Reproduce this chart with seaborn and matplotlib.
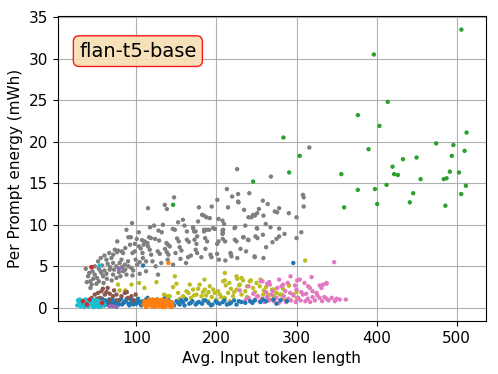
import pandas as pd
import matplotlib
matplotlib.use("Agg")
import matplotlib.pyplot as plt
import seaborn as sns

# per-dataset points: avg. input token length vs per prompt energy (mWh)
gray_x = [225.8, 147, 135.4, 138, 114.5, 227, 219.5, 201, 227, 234.5, 178, 182, 184.5, 191.6, 207.5,
          240, 245.8, 250.8, 94.5, 133, 145.4, 148, 127.5, 131.6, 87.5, 103, 163, 170.7, 172, 184.5,
          187.5, 198, 207.5, 208, 222.5, 250.8, 90, 93, 115.8, 118, 100.4, 76, 107, 110.4, 113.7,
          123.3, 128.3, 137.5, 139.5, 141.6, 150.7, 152.9, 163, 165.4, 172.5, 175, 185.8, 188.3, 207.9,
          210.8, 222.9, 233.3, 240, 251.2, 72.9, 75.8, 81.6, 83.3, 95, 97.9, 103, 105.4, 107.5, 114.5,
          116.6, 118.3, 126.6, 129.1, 135.7, 137.9, 140, 148.8, 154, 156.2, 164.5, 174, 175.8, 186.2,
          193.7, 217.9, 218.7, 247.9, 62.5, 55.4, 52, 68.75, 70.75, 79, 81.25, 85.4, 89.5, 93.75, 100.75,
          36.6, 39.5, 42.5, 45, 47.9, 50.75, 42.5, 56.25, 58.3, 62.5, 66.6, 70.75, 75, 83.3, 87.5, 127,
          145.75, 316, 268, 308, 309, 227.5, 257.9, 264, 309, 214.4, 253, 248, 243.7, 272.9, 275.8,
          278.3, 258.7, 290.4, 300, 187.5, 202.5, 209.5, 261.6, 267.5, 278.3, 250.4, 223.3, 278.3, 275,
          248.7, 234, 239.5, 225, 208.3, 207.5, 202.5, 200.8, 217.5, 247.5, 258.7, 200.8, 192.5, 170.8,
          174, 175.8, 184.5, 190.8, 195.8, 44, 48, 53, 57, 60, 64, 67, 72, 75, 78, 82, 86, 90, 96, 99,
          104, 108, 112, 60, 66, 71, 77, 86, 92, 98, 109, 41, 46, 53, 55, 63, 69, 80, 95, 38, 44, 50, 59,
          120, 124, 131, 139, 112, 104, 117, 122, 158, 160, 152, 177, 194, 236, 258, 262, 270, 285, 300,
          230, 237, 181, 155, 162, 168, 203, 211, 226, 306, 213, 241]
gray_y = [16.7, 13.3, 12.4, 11.9, 12.0, 13.7, 13.4, 13.0, 12.8, 11.8, 12.1, 11.2, 11.1, 10.8, 10.5,
          10.9, 11.2, 11.4, 10.2, 10.0, 9.5, 9.4, 9.3, 9.1, 9.4, 9.1, 9.2, 9.6, 9.2, 9.2,
          9.4, 9.5, 9.3, 9.0, 9.6, 9.55, 8.5, 8.5, 8.5, 8.4, 8.3, 8.0, 8.15, 8.0, 7.8,
          8.3, 8.1, 7.8, 7.6, 7.4, 8.35, 8.0, 8.2, 7.95, 8.2, 7.7, 8.4, 8.0, 8.3,
          8.0, 8.2, 8.5, 8.15, 8.4, 7.0, 6.7, 6.8, 6.6, 6.6, 6.8, 7.4, 7.15, 6.6, 7.4,
          7.0, 6.4, 6.8, 6.5, 7.1, 6.7, 6.4, 6.6, 7.3, 6.9, 6.1, 7.0, 6.6, 7.1,
          6.1, 6.5, 6.2, 6.1, 5.8, 6.0, 5.6, 6.0, 5.4, 5.4, 5.8, 5.2, 5.6, 4.8, 5.2,
          4.7, 3.8, 3.2, 4.4, 4.0, 3.6, 2.4, 4.2, 3.8, 4.1, 4.6, 4.0, 3.6, 4.4, 4.0, 4.0,
          5.2, 19.3, 15.8, 13.6, 13.3, 12.7, 12.9, 12.5, 12.2, 12.1, 11.9, 11.1, 10.9, 11.6, 11.5,
          12.0, 11.1, 11.4, 10.9, 10.9, 10.7, 10.1, 10.1, 9.7, 9.55, 9.6, 9.7, 8.6, 8.3,
          8.6, 8.5, 8.2, 8.0, 9.4, 8.9, 8.0, 7.7, 6.6, 6.2, 6.0, 6.5, 6.4, 9.7,
          9.2, 8.6, 9.4, 9.4, 9.6, 4.9, 5.0, 4.7, 5.1, 4.5, 5.3, 4.9, 4.6, 5.0, 4.3, 4.9, 4.6, 5.0, 4.5, 5.8,
          5.5, 6.0, 5.6, 6.3, 6.6, 6.4, 6.9, 7.2, 7.6, 7.7, 7.6, 4.2, 3.5, 3.2, 4.4, 3.5, 3.3, 3.8, 3.9, 3.1, 2.8, 2.9, 3.0,
          5.6, 5.0, 5.4, 5.8, 4.4, 4.1, 9.7, 9.9, 10.6, 9.9, 10.3, 10.4, 12.2, 9.9, 8.8, 7.3, 7.9, 8.9, 8.4,
          7.1, 6.8, 6.1, 5.9, 5.4, 6.3, 5.8, 5.7, 6.0, 9.1, 14.3, 13.8]

olive_x = [77, 93.75, 103.3, 79, 86, 134.5, 139.5, 145.8, 135.4, 141.6, 152, 154, 158.3, 162.5, 166.6,
           170.75, 175, 179, 181.25, 185.4, 189.5, 191.6, 197.9, 200, 204, 208.3, 210.4, 214.5, 216.6,
           220.75, 225, 229, 231.25, 241.6, 245.75, 254, 258.3, 210.4, 225, 231.25, 148, 310.75, 226,
           210.4, 233.25, 242.9, 250, 211.6, 228.3, 269.5, 290.4, 300, 264.5, 271.6, 281.25, 270.75,
           290.75, 259, 271.6, 275, 279, 285.4, 300, 160, 165, 168, 172, 177, 183, 187, 194, 196, 202,
           206, 218, 222, 236, 238, 248, 252, 262, 283, 120, 125, 110, 150, 185, 216, 238, 190, 255, 265, 296]
olive_y = [2.8, 2.8, 3.0, 2.1, 2.1, 1.6, 1.4, 2.5, 1.5, 1.4, 1.8, 1.1, 1.4, 2.0, 2.8,
           2.2, 1.6, 2.8, 1.4, 2.2, 0.8, 2.6, 1.8, 1.0, 1.6, 3.2, 1.2, 1.8, 0.8,
           1.4, 2.2, 2.8, 1.6, 3.2, 2.4, 2.6, 1.6, 4.2, 3.8, 3.6, 3.8, 5.7, 3.5,
           3.3, 3.3, 3.3, 3.0, 2.7, 2.7, 2.2, 2.7, 1.9, 1.6, 1.4, 1.6, 1.0,
           2.7, 2.1, 2.2, 1.8, 1.6, 1.0, 1.2, 1.2, 1.8, 1.2, 1.5, 2.3, 1.9, 1.5, 1.3, 2.2, 2.0,
           1.3, 2.3, 1.9, 2.0, 1.3, 1.9, 1.4, 2.5, 2.3, 1.0, 3.1, 2.4, 2.9, 3.4, 3.0, 2.6, 1.9, 3.4, 1.2, 1.6]

pink_x = [347, 257.5, 263.3, 266.6, 283.3, 281.25, 292.5, 300.75, 304, 318.75, 314.5, 316.6, 329, 333.25,
          337.5, 331.25, 329, 337.5, 350, 361.6, 278.25, 255.4, 265.75, 337.5, 229.1, 236, 240, 244, 248,
          251, 254, 257, 260, 263, 266, 269, 272, 275, 278, 281, 284, 287, 290, 293, 296, 299, 302, 305,
          308, 311, 314, 317, 320, 323, 326, 332, 335, 340, 344, 348, 354, 286, 292, 300, 306, 312, 320,
          270, 262, 246, 240, 325, 276, 298, 310, 289]
pink_y = [5.5, 3.2, 2.9, 2.8, 2.8, 2.6, 3.8, 3.3, 3.4, 3.7, 2.6, 2.4, 2.7, 2.8,
          2.9, 2.4, 1.2, 1.1, 1.1, 1.0, 3.4, 3.2, 3.1, 3.0, 2.1, 0.9, 1.2, 0.7, 1.0,
          1.4, 0.8, 1.1, 0.7, 1.3, 0.9, 1.6, 0.8, 1.2, 0.6, 1.0, 1.4, 0.7, 1.1, 0.9, 1.5, 0.7, 1.2, 0.9,
          1.6, 0.8, 1.1, 0.7, 1.3, 0.9, 1.5, 0.8, 1.3, 0.9, 1.2, 0.8, 1.0, 2.0, 1.8, 2.2, 1.9, 1.7, 2.0,
          2.0, 1.9, 1.7, 2.6, 1.8, 2.4, 2.7, 3.0, 3.0]

blue_x = [48, 52, 55, 58, 61, 64, 67, 70, 73, 76, 79, 82, 85, 88, 91, 94, 97, 100, 103, 106, 109, 112,
          115, 118, 121, 124, 127, 130, 133, 136, 140, 145, 150, 154, 158, 162, 166, 170, 174, 178, 182,
          186, 190, 195, 199, 204, 208, 213, 218, 222, 225, 231, 236, 242, 248, 255, 262, 271, 280, 288,
          296, 108.3, 50, 54, 57, 60, 63, 66, 69, 72, 75, 78, 81, 84, 87, 90, 93, 96, 99, 102, 105,
          108, 111, 114, 117, 120, 123, 126, 129, 132, 135, 138, 142, 147, 152, 156, 160, 168, 176,
          184, 193, 201, 210, 216, 228, 245, 258, 275]
blue_y = [0.5, 0.8, 0.3, 0.6, 0.9, 0.4, 0.7, 1.0, 0.3, 0.6, 0.9, 0.4, 0.7, 1.1, 0.3, 0.6, 0.9, 0.5, 0.8,
          0.3, 0.6, 1.0, 0.4, 0.7, 0.2, 0.9, 0.5, 0.8, 0.3, 0.6, 0.9, 0.5, 0.8, 0.4, 0.7, 1.0, 0.5, 0.8,
          0.4, 0.7, 0.5, 0.9, 0.6, 0.4, 0.8, 0.5, 0.7, 0.4, 0.6, 0.9, 0.4, 0.7, 0.6, 0.8, 0.9, 0.7, 0.8,
          1.0, 0.9, 0.8, 5.4, 5.1, 1.0, 0.6, 1.1, 0.3, 0.8, 1.0, 0.5, 0.7, 0.9, 0.4, 1.1, 0.6, 0.9,
          0.5, 1.0, 0.4, 0.7, 1.1, 0.5, 0.8, 0.4, 1.2, 0.6, 0.9, 0.5, 1.0, 0.3, 0.7, 1.1, 0.4, 0.6,
          0.3, 0.6, 0.9, 0.3, 0.6, 0.6, 0.9, 0.3, 0.6, 0.9, 0.5, 0.8, 0.6, 1.0, 0.5]

orange_x = [109, 111, 113, 115, 117, 119, 121, 123, 125, 127, 129, 131, 133, 135, 137, 139, 141, 143, 145,
            112, 118, 124, 130, 136, 142, 114, 120, 126, 132, 128, 140, 110, 116, 122, 134, 138, 144,
            113, 119, 125, 131, 137, 143, 121, 127, 133, 139, 117]
orange_y = [0.4, 0.7, 0.2, 0.9, 0.5, 0.3, 0.8, 0.1, 0.6, 0.4, 0.9, 0.2, 0.7, 0.5, 0.3, 0.8, 0.4, 0.6, 0.3,
            0.1, 0.6, 0.3, 0.5, 0.1, 0.2, 0.6, 1.0, 0.9, 1.0, 0.2, 5.4, 0.8, 1.0, 0.5, 0.9, 0.6, 0.7,
            0.5, 0.2, 1.0, 0.7, 0.9, 0.1, 0.3, 0.7, 0.1, 0.5, 0.8]

brown_x = [47.9, 52, 56.25, 60.4, 62.5, 66.6, 70.75, 75, 81.25, 85.4, 89.5, 93.75, 54.2, 66.6, 77,
           58, 64, 72, 88, 96, 99, 51, 44]
brown_y = [1.6, 1.8, 2.0, 1.6, 1.9, 1.7, 1.4, 1.6, 1.4, 1.8, 1.2, 1.4, 1.2, 1.0, 0.9,
           2.3, 2.4, 2.1, 1.9, 0.9, 1.6, 1.1, 1.2]

cyan_x = [26, 28, 30, 32, 34, 36, 38, 40, 42, 44, 46, 48, 50, 52, 54, 56, 58, 29, 35, 41, 47, 53, 60, 54,
          27, 31, 33, 37, 39, 43, 45, 49, 51, 55]
cyan_y = [0.3, 0.7, 0.2, 0.5, 0.9, 0.3, 0.6, 0.2, 0.8, 0.4, 0.1, 0.6, 0.3, 0.8, 0.4, 0.2, 0.6,
          1.0, 0.1, 0.5, 0.9, 0.1, 0.4, 5.1, 0.9, 0.8, 0.4, 1.0, 0.4, 1.0, 0.7, 0.2, 0.9, 0.6]

red_x = [43.75, 41.6, 33, 38, 57, 66]
red_y = [4.9, 1.0, 0.8, 0.4, 0.6, 0.3]

purple_x = [78.25, 70.75, 66.6, 75]
purple_y = [4.7, 0.2, 0.2, 0.1]

green_x = [506, 396.6, 414, 376.6, 403.7, 512.5, 474.5, 496, 390, 510, 494, 450, 433, 420, 422, 426.6,
           356, 491.6, 503, 455, 484, 487.5, 511.6, 412.5, 376.6, 398, 445.8, 505.8, 441.6, 400.8,
           359.5, 486, 304, 283.7, 290.8, 245.8, 145.8]
green_y = [33.5, 30.5, 24.8, 23.2, 21.9, 21.1, 19.8, 19.6, 19.1, 18.9, 18.3, 18.1, 17.9, 17.0, 16.1, 16.0,
           16.1, 16.4, 16.3, 15.5, 15.5, 15.6, 14.7, 14.8, 14.2, 14.3, 13.8, 13.7, 12.7, 12.5,
           12.1, 12.3, 18.3, 20.5, 16.3, 15.2, 12.4]

groups = [
    ("gray", gray_x, gray_y, "tab:gray"),
    ("olive", olive_x, olive_y, "tab:olive"),
    ("pink", pink_x, pink_y, "tab:pink"),
    ("blue", blue_x, blue_y, "tab:blue"),
    ("orange", orange_x, orange_y, "tab:orange"),
    ("brown", brown_x, brown_y, "tab:brown"),
    ("cyan", cyan_x, cyan_y, "tab:cyan"),
    ("red", red_x, red_y, "tab:red"),
    ("purple", purple_x, purple_y, "tab:purple"),
    ("green", green_x, green_y, "tab:green"),
]

rows = []
for name, xs, ys, _ in groups:
    for x, y in zip(xs, ys):
        rows.append({"dataset": name, "tokens": x, "energy": y})
df = pd.DataFrame(rows)
palette = {name: c for name, _, _, c in groups}

fig, ax = plt.subplots(figsize=(4.98, 3.74), dpi=100)
fig.subplots_adjust(left=0.116, right=0.976, top=0.958, bottom=0.142)

sns.scatterplot(data=df, x="tokens", y="energy", hue="dataset", palette=palette,
                s=10, linewidth=0, legend=False, ax=ax)

ax.grid(True, color="#b0b0b0", linewidth=0.8)
ax.set_axisbelow(True)
ax.set_xlabel("Avg. Input token length", fontsize=11)
ax.set_ylabel("Per Prompt energy (mWh)", fontsize=11)
ax.tick_params(labelsize=11)
ax.set_yticks([0, 5, 10, 15, 20, 25, 30, 35])

ax.text(0.05, 0.915, "flan-t5-base", transform=ax.transAxes, fontsize=14,
        va="top", ha="left",
        bbox=dict(boxstyle="round,pad=0.3", facecolor="wheat", edgecolor="red", alpha=0.9))

fig.savefig("out.png", dpi=100)
